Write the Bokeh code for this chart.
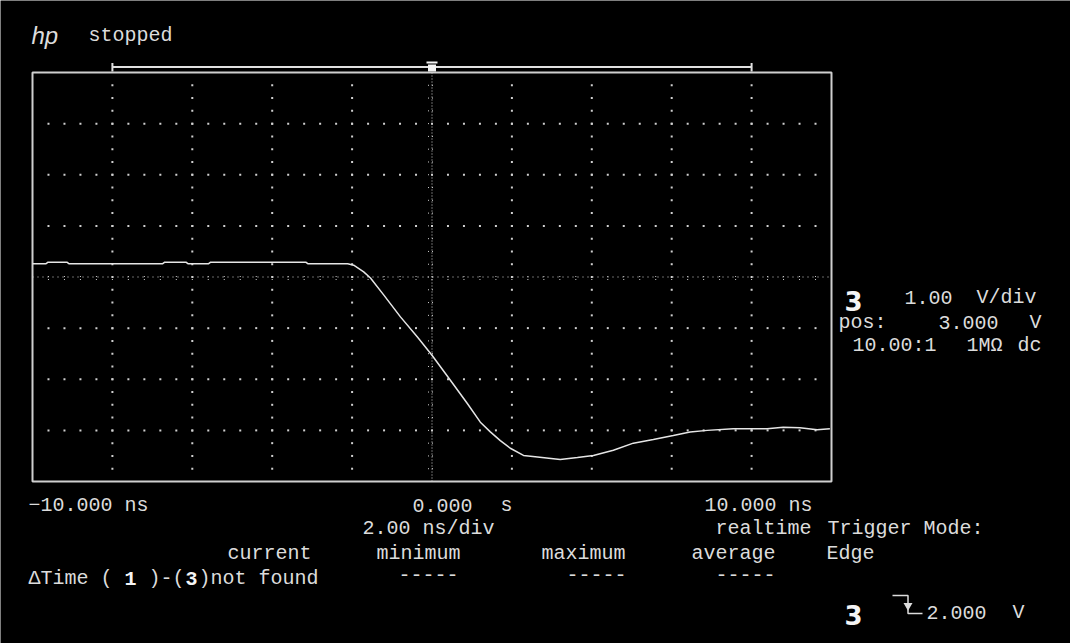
import numpy as np
from bokeh.plotting import figure
from bokeh.models import Range1d, Grid
from bokeh.core.properties import value
from bokeh.embed import file_html
from bokeh.resources import INLINE

# Channel 3 trace: time (ns) and voltage (V)
time_ns = [-10.0, -9.66, -9.61, -9.14, -9.09, -6.74, -6.69, -6.16, -6.11, -5.59,
           -5.54, -3.16, -3.11, -2.11, -1.96, -1.71, -1.54, -1.21, -0.79, -0.36,
           0.0, 0.46, 0.88, 1.21, 1.46, 1.71, 1.96, 2.29, 2.64, 3.21,
           3.64, 4.04, 4.54, 5.04, 5.54, 6.04, 6.46, 6.89, 7.54, 8.39,
           8.79, 9.21, 9.64, 9.96]
volts = [3.26, 3.26, 3.29, 3.29, 3.26, 3.26, 3.29, 3.29, 3.26, 3.26,
         3.29, 3.29, 3.26, 3.26, 3.23, 3.10, 2.98, 2.65, 2.22, 1.82,
         1.47, 0.98, 0.53, 0.16, -0.03, -0.20, -0.35, -0.49, -0.52, -0.57,
         -0.53, -0.49, -0.39, -0.25, -0.18, -0.10, -0.03, 0.00, 0.03, 0.03,
         0.06, 0.05, 0.01, 0.03]

# Scope settings
T_DIV = 2.0        # ns/div
V_DIV = 1.0        # V/div
V_POS = 3.0        # V at screen centre
N_XDIV, N_YDIV = 10, 8
t_min, t_max = -N_XDIV / 2 * T_DIV, N_XDIV / 2 * T_DIV
v_min, v_max = V_POS - N_YDIV / 2 * V_DIV, V_POS + N_YDIV / 2 * V_DIV

# Canvas and graticule box (pixels)
W, H = 1070, 643
BOX_L, BOX_R, BOX_T, BOX_B = 32, 831, 72, 481
kx = (BOX_R - BOX_L) / (t_max - t_min)
ky = (BOX_B - BOX_T) / (v_max - v_min)


def X(px):
    return t_min + (px - BOX_L) / kx


def Y(py):
    return v_max - (py - BOX_T) / ky


FG = "#dcdcdc"
DOT = "#d0d0d0"
BRIGHT = "#f4f4f4"

p = figure(width=W, height=H,
           x_range=Range1d(X(0), X(W)), y_range=Range1d(Y(H), Y(0)),
           x_axis_location=None, y_axis_location=None,
           toolbar_location=None, output_backend="svg",
           background_fill_color="black", border_fill_color="black",
           outline_line_color=None)
p.min_border_left = p.min_border_right = 0
p.min_border_top = p.min_border_bottom = 0
for g in p.select(type=Grid):
    g.visible = False
    g.grid_line_color = None

# Graticule box
p.quad(left=[t_min], right=[t_max], bottom=[v_min], top=[v_max],
       fill_alpha=0, line_color="#cfcfcf", line_width=2)

# Dotted division lines
cols = [t for t in np.arange(t_min + T_DIV, t_max, T_DIV) if abs(t) > 1e-9]
rows = [v for v in np.arange(v_min + V_DIV, v_max, V_DIV) if abs(v - V_POS) > 1e-9]
col_v = np.arange(v_min + V_DIV / 4, v_max - 1e-9, V_DIV / 4)
row_t = np.arange(t_min + T_DIV / 5, t_max - 1e-9, T_DIV / 5)
dx = [t for t in cols for _ in col_v] + [t for _ in rows for t in row_t]
dy = [v for _ in cols for v in col_v] + [v for v in rows for _ in row_t]
p.scatter(dx, dy, marker="square", size=2, fill_color=DOT, line_color=None)

# Centre cross-hair with minor ticks
p.segment(x0=[0], y0=[v_min], x1=[0], y1=[v_max], line_color=DOT, line_width=1, line_dash="1 2")
p.segment(x0=[t_min], y0=[V_POS], x1=[t_max], y1=[V_POS], line_color=DOT, line_width=1, line_dash="1 4")
vt = col_v
p.segment(x0=[-4 / kx] * len(vt), y0=list(vt), x1=[4 / kx] * len(vt), y1=list(vt),
          line_color=DOT, line_width=1, line_dash="1 3")
ht = row_t
p.segment(x0=list(ht), y0=[V_POS - 3 / ky] * len(ht), x1=list(ht), y1=[V_POS + 3 / ky] * len(ht),
          line_color=DOT, line_width=1, line_dash="1 2")

# Waveform
p.line(time_ns, volts, line_color="#e6e6e6", line_width=1.5)

# Memory bar above the graticule, with trigger-point marker
bar_t0, bar_t1 = cols[0], cols[-1]
p.segment(x0=[bar_t0], y0=[Y(66.5)], x1=[bar_t1], y1=[Y(66.5)], line_color="#e0e0e0", line_width=2)
p.segment(x0=[bar_t0, bar_t1], y0=[Y(62.5)] * 2, x1=[bar_t0, bar_t1], y1=[Y(71)] * 2,
          line_color="#e0e0e0", line_width=2)
p.segment(x0=[-5.5 / kx], y0=[Y(62)], x1=[5.5 / kx], y1=[Y(62)], line_color=BRIGHT, line_width=2)
p.quad(left=[-4 / kx], right=[4 / kx], bottom=[Y(71)], top=[Y(64)], fill_color=BRIGHT, line_color=None)

# Falling-edge trigger symbol
p.line([X(892), X(907.5), X(907.5), X(922)], [Y(595), Y(595), Y(613), Y(613)],
       line_color=FG, line_width=1.5)
p.scatter([X(907.5)], [Y(605)], marker="inverted_triangle", size=9, fill_color=FG, line_color=None)

MONO = "Liberation Mono"


def txt(px, py, s, font=MONO, size="20px", style="normal", color=FG):
    p.text(x=[X(px)], y=[Y(py)], text=[s], text_font=value(font), text_font_size=size,
           text_font_style=style, text_color=color, text_align="left",
           text_baseline="alphabetic")


# Header
txt(31, 35, "hp", font="Liberation Sans", size="24px", style="italic")
txt(88, 35, "stopped")

# Channel settings
txt(844, 300, "3", font="DejaVu Sans", size="26px", style="bold", color=BRIGHT)
txt(904, 297, "1.00")
txt(976, 297, "V/div")
txt(838, 322, "pos:")
txt(938, 322, "3.000")
txt(1029, 322, "V")
txt(852, 345, "10.00:1")
txt(966, 345, "1MΩ")
txt(1017, 345, "dc")

# Time base
txt(28, 505, "−10.000 ns")
txt(412, 505, "0.000")
txt(500, 505, "s")
txt(704, 505, "10.000 ns")
txt(362, 528, "2.00 ns/div")
txt(715, 528, "realtime")
txt(827, 528, "Trigger Mode:")
txt(826, 553, "Edge")

# Measurement table
txt(227, 553, "current")
txt(376, 553, "minimum")
txt(541, 553, "maximum")
txt(691, 553, "average")
txt(28, 578, "ΔTime (")
txt(124, 578, "1", style="bold", color=BRIGHT)
txt(148, 578, ")-(")
txt(185, 578, "3", style="bold", color=BRIGHT)
txt(198, 578, ")not found")
txt(398, 574, "-----")
txt(566, 574, "-----")
txt(715, 574, "-----")

# Trigger level
txt(844, 614, "3", font="DejaVu Sans", size="26px", style="bold", color=BRIGHT)
txt(926, 612, "2.000")
txt(1012, 612, "V")

open("out.html", "w").write(file_html(p, INLINE))
